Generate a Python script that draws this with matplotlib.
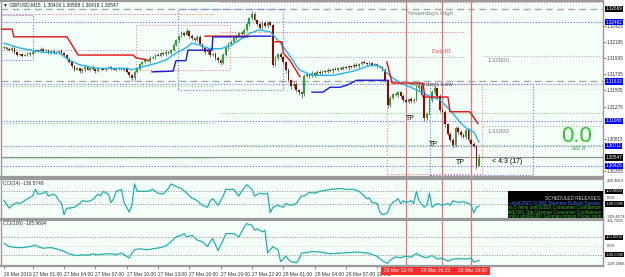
import numpy as np
import matplotlib
matplotlib.use("Agg")
import matplotlib.pyplot as plt
from matplotlib.patches import Rectangle
import matplotlib.transforms as mtransforms

plt.rcParams['font.family'] = ['Liberation Sans', 'DejaVu Sans']

# ---------------- data ----------------
first_open = 1.3211
close = [
    1.3212, 1.3210, 1.3208, 1.3211, 1.3205, 1.3201, 1.3202, 1.3200, 1.3201, 1.3204,
    1.3202, 1.3205, 1.3208, 1.3207, 1.3210, 1.3207, 1.3208, 1.3205, 1.3207, 1.3204,
    1.3205, 1.3207, 1.3204, 1.3201, 1.3195, 1.3191, 1.3185, 1.3180, 1.3182, 1.3178,
    1.3181, 1.3184, 1.3180, 1.3182, 1.3181, 1.3178, 1.3182, 1.3181, 1.3180, 1.3182,
    1.3184, 1.3181, 1.3180, 1.3182, 1.3181, 1.3180, 1.3181, 1.3177, 1.3172, 1.3168,
    1.3177, 1.3181, 1.3188, 1.3191, 1.3194, 1.3192, 1.3197, 1.3198, 1.3201, 1.3200,
    1.3204, 1.3202, 1.3205, 1.3204, 1.3208, 1.3215, 1.3222, 1.3228, 1.3232, 1.3230,
    1.3235, 1.3228, 1.3225, 1.3222, 1.3227, 1.3217, 1.3211, 1.3205, 1.3208, 1.3201,
    1.3202, 1.3197, 1.3194, 1.3190, 1.3201, 1.3211, 1.3217, 1.3220, 1.3225, 1.3228,
    1.3232, 1.3231, 1.3237, 1.3245, 1.3254, 1.3260, 1.3251, 1.3245, 1.3240, 1.3247,
    1.3242, 1.3248, 1.3244, 1.3187, 1.3197, 1.3202, 1.3198, 1.3191, 1.3180, 1.3165,
    1.3157, 1.3160, 1.3151, 1.3148, 1.3145, 1.3171, 1.3174, 1.3171, 1.3175, 1.3172,
    1.3177, 1.3175, 1.3178, 1.3177, 1.3180, 1.3178, 1.3181, 1.3180, 1.3182, 1.3181,
    1.3184, 1.3182, 1.3185, 1.3184, 1.3187, 1.3185, 1.3188, 1.3191, 1.3190, 1.3188,
    1.3190, 1.3187, 1.3188, 1.3185, 1.3184, 1.3180, 1.3165, 1.3130, 1.3140, 1.3145,
    1.3144, 1.3148, 1.3142, 1.3137, 1.3134, 1.3138, 1.3135, 1.3137, 1.3154, 1.3157,
    1.3144, 1.3111, 1.3117, 1.3137, 1.3148, 1.3154, 1.3142, 1.3122, 1.3120, 1.3102,
    1.3088, 1.3080, 1.3072, 1.3097, 1.3091, 1.3087, 1.3084, 1.3094, 1.3080, 1.3074,
    1.3071, 1.30419, 1.30547,
]
# wick lengths in pips
upper_wick = [
    2, 1, 2, 3, 1, 2, 1, 2, 1, 2,  1, 2, 2, 1, 3, 1, 2, 1, 1, 2,
    2, 1, 2, 1, 2, 3, 1, 2, 2, 1,  2, 1, 2, 1, 3, 1, 2, 1, 2, 1,
    2, 1, 2, 1, 2, 1, 2, 3, 1, 2,  3, 2, 1, 2, 3, 1, 2, 2, 1, 3,
    2, 1, 3, 2, 1, 3, 2, 2, 3, 2,  4, 2, 3, 1, 2, 2, 1, 2, 3, 2,
    2, 3, 2, 2, 3, 4, 2, 3, 2, 3,  2, 3, 2, 3, 2, 4, 3, 2, 3, 2,
    3, 2, 2, 2, 3, 2, 3, 2, 2, 3,  2, 3, 2, 2, 2, 3, 2, 2, 3, 2,
    2, 3, 1, 2, 2, 1, 2, 3, 1, 2,  2, 1, 2, 1, 2, 2, 1, 2, 3, 1,
    2, 1, 2, 2, 1, 2, 3, 2, 4, 2,  3, 2, 2, 3, 2, 2, 3, 2, 4, 3,
    2, 3, 2, 4, 3, 4, 2, 3, 2, 3,  2, 3, 2, 3, 2, 3, 3, 2, 3, 2,
    3, 2, 5.1,
]
lower_wick = [
    2, 2, 1, 2, 3, 1, 2, 2, 1, 2,  2, 1, 1, 2, 1, 2, 1, 2, 2, 1,
    1, 2, 1, 2, 1, 2, 3, 2, 1, 2,  2, 3, 1, 2, 1, 2, 1, 2, 1, 2,
    1, 2, 1, 2, 2, 1, 2, 1, 3, 4,  2, 1, 2, 1, 2, 1, 2, 1, 2, 1,
    2, 1, 2, 1, 2, 1, 1, 2, 1, 2,  1, 2, 3, 2, 1, 3, 2, 3, 2, 3,
    2, 3, 4, 3, 2, 2, 3, 2, 1, 2,  1, 2, 1, 2, 2, 3, 2, 3, 2, 2,
    3, 2, 2, 3, 2, 3, 2, 3, 4, 3,  4, 3, 3, 4, 5, 2, 2, 3, 2, 2,
    1, 2, 2, 1, 2, 1, 2, 1, 2, 1,  2, 1, 2, 1, 2, 1, 2, 1, 2, 2,
    1, 2, 1, 2, 1, 2, 2, 4, 3, 2,  2, 3, 2, 3, 3, 2, 3, 2, 2, 3,
    3, 4, 3, 2, 3, 2, 3, 3, 2, 4,  3, 3, 4, 2, 3, 3, 2, 3, 3, 2,
    3, 3, 0,
]

# moving average (cyan)
ma_idx = [0, 6, 15, 21, 25, 29, 36, 41, 47, 49, 53, 59, 62, 66, 70, 72, 75, 79, 83, 87,
          90, 94, 98, 102, 106, 110, 113, 118, 126, 134, 139, 143, 145, 149, 152, 157,
          162, 167, 171, 175, 177, 180, 182]
ma_val = [1.3218, 1.3211, 1.3205, 1.3204, 1.3194, 1.3187, 1.3182, 1.3182, 1.3182, 1.3180,
          1.3184, 1.3190, 1.3194, 1.3204, 1.3212, 1.3218, 1.3215, 1.3210, 1.3210, 1.3215,
          1.3222, 1.3232, 1.3237, 1.3234, 1.3218, 1.3197, 1.3180, 1.3172, 1.3172, 1.3178,
          1.3185, 1.3187, 1.3181, 1.3168, 1.3161, 1.3153, 1.3144, 1.3137, 1.3122, 1.3104,
          1.3097, 1.3091, 1.3077]

# red trailing stop (NaN separates segments)
red_idx = [-1.2, 3.1, 3.8, 24.1, 26.1, 28.4, 49.4, 50.6, 54.8, np.nan,
           77, 93.5, np.nan,
           103.1, 106.5, 107, 109.6, 113.4, np.nan,
           146.7, 147.9, 148.7, 160.5, 161.3, 170.1, 170.9, 178.5, 181.6]
red_val = [1.3238, 1.3238, 1.3227, 1.3227, 1.3215, 1.3201, 1.3201, 1.3197, 1.3194, np.nan,
           1.3228, 1.3228, np.nan,
           1.3220, 1.3220, 1.3204, 1.3193, 1.3170, np.nan,
           1.3191, 1.3173, 1.3161, 1.3161, 1.3141, 1.3141, 1.3120, 1.3120, 1.3103]
# blue trailing stop
blue_idx = [56.7, 64.8, 65.9, 69.7, 70.5, 79.7, 80, 93.5, 94, 102.2, np.nan,
            118, 122.2, 124.9, 128.7, 131.4, 135.2, 146.7]
blue_val = [1.3177, 1.3178, 1.3193, 1.3193, 1.3208, 1.3208, 1.3227, 1.3227, 1.3228, 1.3228, np.nan,
            1.3148, 1.3148, 1.3155, 1.3155, 1.3158, 1.3165, 1.3165]

# CCI(14)
cci14_idx = [0, 2, 3, 5, 6, 8, 9, 11, 12, 13, 15, 16, 17, 19, 20, 21, 22, 23, 24, 25, 27, 29, 30,
             32, 34, 36, 37, 38, 40, 41, 42, 43, 45, 46, 48, 49, 50, 51, 53, 55, 57, 59, 61, 63,
             64, 66, 68, 70, 72, 74, 76, 78, 79, 80, 82, 84, 85, 88, 90, 91, 93, 95, 96, 98, 100,
             101, 102, 103, 105, 107, 108, 110, 112, 114, 115, 117, 119, 121, 125, 129, 131, 134,
             136, 138, 139, 140, 141, 143, 144, 145, 147, 148, 149, 151, 152, 153, 154, 156, 157,
             158, 159, 161, 162, 163, 164, 166, 168, 170, 171, 172, 174, 176, 178, 179, 180, 181, 182]
cci14 = [-45, -166, -122, -78, -92, -48, -18, 26, 130, 56, 70, 100, 26, 56, 26, -48, -78, -270, -166,
         -166, -152, -92, -48, -63, -33, 56, 26, 100, 56, -78, -18, 100, 130, -78, -226, -122, 218,
         100, 100, 100, 130, 70, 56, 144, 218, 174, 144, 70, -4, -48, -122, -152, -48, -18, -122,
         26, 130, 130, 26, 100, 204, 130, 26, 70, 56, 70, -240, -152, -122, -152, -92, -122, -92,
         26, 26, 85, 70, 100, 130, 144, 130, 130, 100, 26, -18, -4, -78, -92, -226, -270, -240,
         -122, -78, -18, -92, -48, -78, -48, -92, 100, -48, -152, -122, 70, -152, -92, -122, -92,
         -122, -48, -78, -63, -92, -122, -240, -152, -137]

# CCI(100)
cci100_idx = [0, 1, 2, 5, 7, 10, 12, 13, 15, 18, 20, 23, 25, 28, 30, 32, 34, 36, 38, 41, 43, 45,
              46, 48, 49, 50, 52, 55, 57, 60, 62, 64, 66, 68, 69, 70, 72, 74, 76, 78, 79, 80, 82,
              83, 84, 85, 88, 90, 91, 92, 93, 95, 96, 97, 99, 100, 101, 103, 105, 106, 108, 109,
              110, 112, 113, 114, 116, 118, 121, 125, 130, 135, 137, 140, 143, 145, 147, 148, 150,
              152, 154, 156, 158, 160, 162, 164, 166, 168, 170, 172, 174, 177, 179, 180, 182]
cci100 = [30, 11, -8, -19, -19, -8, 11, -8, -26, -19, -33, -63, -92, -111, -100, -107, -92, -100,
          -92, -89, -100, -81, -100, -137, -81, -44, -33, -44, -33, -19, 0, 48, 104, 122, 141, 104,
          122, 67, 48, -8, 48, 85, -55, 11, 67, 141, 141, 104, 159, 214, 255, 233, 178, 197, 160,
          180, -81, -8, -44, -181, -119, -155, -181, -192, -155, -81, -75, -63, -70, -90, -80, -70,
          -75, -85, -120, -170, -200, -160, -125, -135, -115, -130, -85, -120, -135, -110, -150,
          -140, -175, -150, -145, -150, -140, -185, -166]

# levels
yest_high, yest_low, bid = 1.32669, 1.31633, 1.30547
blue_levels = [1.32482, 1.31597, 1.31068, 1.30711, 1.30426]
blue_box_levels = [1.32482, 1.31633, 1.31068, 1.30711, 1.30426]
price_ticks = [1.32425, 1.32195, 1.31965, 1.31735, 1.31505, 1.31275, 1.30815, 1.30355]
round_levels = [1.32000, 1.31000]
# pivot segments (start idx, end idx, price, colour)
piv_x0 = [-1.2, -1.2, -1.2, -1.2, -1.2, 82.7, 82.7, 82.7, 82.7, 82.7, 82.7]
piv_x1 = [80.8, 80.8, 80.8, 80.8, 80.8, 229.5, 176.6, 176.6, 229.5, 229.5, 229.5]
piv_p = [1.3260, 1.3208, 1.3157, 1.3104, 1.3054, 1.3277, 1.3234, 1.3198, 1.3153, 1.3118, 1.3073]
piv_c = ['#ff7070', '#a8a8a8', '#7fd07f', '#7fd07f', '#7fd07f',
         '#ff7070', '#ff7070', '#a8a8a8', '#c8ecc8', '#7fd07f', '#7fd07f']
# rectangles (idx0, idx1, low, high, colour)
rect_x0 = [-1.15, 50.6, 66.7, 146.7, 163.2]
rect_x1 = [11.1, 86.6, 106.9, 183.1, 202.7]
rect_lo = [1.3194, 1.3180, 1.3151, 1.3031, 1.3030]
rect_hi = [1.3258, 1.3244, 1.3267, 1.3160, 1.3160]
rect_c = ['#7070ff', '#ff8080', '#7070ff', '#ff8080', '#7070ff']
event_idx = [154, 168, 179]
event_lbl = ['28 Mar 12:45', '28 Mar 16:15', '28 Mar 19:00']
time_idx = [0, 11, 23, 35, 47, 59, 71, 83, 95, 107, 119, 131, 143]
time_lbl = ['26 Mar 2019', '27 Mar 01:00', '27 Mar 04:00', '27 Mar 07:00', '27 Mar 10:00',
            '27 Mar 13:00', '27 Mar 16:00', '27 Mar 19:00', '27 Mar 22:00', '28 Mar 01:00',
            '28 Mar 04:00', '28 Mar 07:00', '28 Ma']

# ---------------- figure ----------------
W, H = 625, 277
fig = plt.figure(figsize=(W / 100, H / 100), dpi=100, facecolor='white')
FS = 3.5      # axis label size
FSR = 3.3     # right-hand price labels
FSC = 3.0     # right-hand CCI labels


def fbox(x0, y0, x1, y1):
    return [x0 / W, 1 - y1 / H, (x1 - x0) / W, (y1 - y0) / H]


def ptext(x, y, s, **kw):
    kw.setdefault('va', 'center')
    fig.text(x / W, 1 - y / H, s, **kw)


BG = '#f4fff9'
ax = fig.add_axes(fbox(1, 1, 603, 177), facecolor=BG)
ax1 = fig.add_axes(fbox(1, 179, 603, 218.5), facecolor=BG, sharex=ax)
ax2 = fig.add_axes(fbox(1, 219.5, 603, 266), facecolor=BG, sharex=ax)
for a in (ax, ax1, ax2):
    for s in a.spines.values():
        s.set_color('#9a9a9a')
        s.set_linewidth(1.0)
    a.spines['top'].set_linewidth(1.6)
    a.spines['bottom'].set_linewidth(1.6)

n = len(close)
idx = np.arange(n)
c = np.array(close)
o = np.array([first_open] + close[:-1])
hi = np.maximum(o, c) + np.array(upper_wick[:n]) * 1e-4
lo = np.minimum(o, c) - np.array(lower_wick[:n]) * 1e-4

ax.set_xlim(-1.15, 229.5)
ax.set_ylim(1.30268, 1.32782)

DOT = (0, (1, 1.6))
# full-width levels
ax.axhline(yest_high, color='#a8a8a8', lw=1.0, ls=(0, (5, 3)), zorder=1)
ax.axhline(yest_low, color='#a8a8a8', lw=1.0, ls=(0, (5, 3)), zorder=1)
for lv in blue_levels:
    ax.axhline(lv, color='#6a6aff', lw=0.8, ls=DOT, zorder=1)
ax.axhline(bid, color='#909090', lw=0.9, zorder=1)
for x0, x1, p, col in zip(piv_x0, piv_x1, piv_p, piv_c):
    ax.plot([x0, x1], [p, p], color=col, lw=0.8, ls=DOT, zorder=1)
for lv in round_levels:
    ax.plot([183.5, 229.5], [lv, lv], color='#b0b0b0', lw=0.8, ls=DOT, zorder=1)
for x0, x1, l, h_, col in zip(rect_x0, rect_x1, rect_lo, rect_hi, rect_c):
    ax.add_patch(Rectangle((x0, l), x1 - x0, h_ - l, fill=False, ec=col, lw=0.8,
                           ls=DOT, zorder=1))
for a in (ax, ax1, ax2):
    for e in event_idx:
        a.axvline(e, color='#f07070', lw=0.9, zorder=1.5)

# candles
ax.vlines(idx, lo, hi, color='#6a6a6a', lw=0.6, zorder=2)
bull = c >= o
body_lo = np.minimum(o, c)
body_h = np.maximum(np.abs(c - o), 0.00004)
ax.bar(idx, body_h, bottom=body_lo, width=0.66,
       color=np.where(bull, '#22aa22', '#a00000'), lw=0, zorder=3)

# indicator lines
ax.plot(ma_idx, ma_val, color='#22b4ee', lw=1.0, zorder=4)
ax.plot(red_idx, red_val, color='#e01010', lw=1.0, zorder=4)
ax.plot(blue_idx, blue_val, color='#1a1ae0', lw=1.0, zorder=4)

# price axis
ax.yaxis.tick_right()
ax.set_yticks(price_ticks)
ax.set_yticklabels([f'{v:.5f}' for v in price_ticks])
ax.tick_params(axis='y', labelsize=FSR, pad=1.0, length=1.8, color='#909090',
               labelcolor='#303030')
ax.tick_params(axis='x', bottom=False, labelbottom=False)
trans = mtransforms.blended_transform_factory(ax.transAxes, ax.transData)
for lv in blue_box_levels:
    ax.text(1.004, lv, f'{lv:.5f}', transform=trans, fontsize=FSR, color='white',
            va='center', ha='left', zorder=10,
            bbox=dict(boxstyle='square,pad=0.15', fc='#0000ff', ec='none'))
for lv in (yest_high, bid):
    ax.text(1.004, lv, f'{lv:.5f}', transform=trans, fontsize=FSR, color='white',
            va='center', ha='left', zorder=10,
            bbox=dict(boxstyle='square,pad=0.15', fc='#000000', ec='none'))

# CCI panels
def cci_panel(a, xs, ys, lo_, hi_, lbl_lo, lbl_hi, title):
    a.plot(xs, ys, color='#20b2aa', lw=0.9, zorder=3)
    a.set_ylim(lo_, hi_)
    a.axhline(100, color='#8a8a8a', lw=0.7, ls=DOT)
    a.axhline(-100, color='#8a8a8a', lw=0.7, ls=DOT)
    a.axhline(0, color='#cfcfcf', lw=0.7, ls=DOT)
    a.set_yticks([])
    a.tick_params(axis='x', bottom=False, labelbottom=False)
    tr = mtransforms.blended_transform_factory(a.transAxes, a.transData)
    a.text(1.006, hi_, lbl_hi, transform=tr, fontsize=FSC, va='top', ha='left', color='#303030')
    a.text(1.006, lo_, lbl_lo, transform=tr, fontsize=FSC, va='bottom', ha='left', color='#303030')
    a.text(1.006, 0, '0.00', transform=tr, fontsize=FSC, va='center', ha='left', color='#303030')
    for v, s in ((100, '100.0000'), (-100, '-100.0000')):
        a.text(1.004, v, s, transform=tr, fontsize=FSC, va='center', ha='left', color='white',
               zorder=10, bbox=dict(boxstyle='square,pad=0.15', fc='black', ec='none'))
    a.text(0.004, 0.96, title, transform=a.transAxes, fontsize=FS, va='top', ha='left',
           color='#303030')


cci_panel(ax1, cci14_idx, cci14, -329.4173, 294.3813, '-329.4173', '294.3813',
          'CCI(14) -136.5748')
cci_panel(ax2, cci100_idx, cci100, -229.1866, 301.7555, '-229.1866', '301.7555',
          'CCI(100) -165.9694')

# time axis
ax2.tick_params(axis='x', bottom=True, labelbottom=True, labelsize=FS, pad=1.5,
                length=2.5, color='#909090', labelcolor='#303030')
ax2.set_xticks(time_idx)
ax2.set_xticklabels(time_lbl, ha='left')
# red band behind the event time labels
fig.patches.append(Rectangle((381 / W, 1 - 275 / H), 109 / W, 8.5 / H, transform=fig.transFigure,
                             fc='#ff2a2a', ec='none', zorder=5))
for xc, s in zip((399, 435.5, 472), event_lbl):
    fig.text(xc / W, 1 - 270.5 / H, s, fontsize=FS, color='white', ha='center',
             va='center', zorder=6)

# annotations
ax.text(0.004, 0.992, '\u25bc GBPUSD,M15  1.30419 1.30598 1.30419 1.30547', transform=ax.transAxes,
        fontsize=FS, va='top', ha='left', color='#202020',
        family=['Liberation Sans', 'DejaVu Sans'])
ptext(407, 13, 'Yesterdays High', fontsize=4.6, color='#808080')
ptext(408, 84.5, 'Yesterdays Low', fontsize=4.6, color='#505050')
ptext(432, 51, 'Daily R1', fontsize=3.6, color='#ff4040')
ptext(488, 60, '1.32000', fontsize=4.3, color='#808080')
ptext(488, 131, '1.31000', fontsize=4.3, color='#808080')
ptext(577, 136, '0.0', fontsize=16, color='#22cc22', ha='center')
ptext(578, 148.5, '+92.4', fontsize=4.3, color='#22aa22', ha='center')
ptext(492, 161.5, '< 4:3 (17)', fontsize=5.0, color='black')
for x_, y_ in ((406, 119), (429, 144), (456, 162)):
    ptext(x_, y_, 'TP', fontsize=5.0, color='black')

# scheduled releases box
box = Rectangle((508 / W, 1 - 218 / H), 95 / W, 27 / H, transform=fig.transFigure,
                fc='black', ec='none', zorder=5)
fig.patches.append(box)
sched = [('SCHEDULED RELEASES:', '#d8d8d8'),
         ('hrs 29 mins until(USD) FOMC Member Bullard Speaks', '#3a7bff'),
         ('2 hrs 5 mins until(USD) Consumer Confidence', '#2ecc2e'),
         ('7 hrs 55 mins until(EUR) Gfk German Consumer Confidence', '#2ecc2e'),
         ('24 hrs 5 mins until(EUR) German Import Prices m/m', '#2ecc2e')]
for k, (s, col) in enumerate(sched):
    t = fig.text(601 / W, 1 - (198.5 + k * 4.6) / H, s, fontsize=3.4, color=col, ha='right',
                 va='center', zorder=6)
    t.set_clip_path(box)

fig.savefig('out.png', dpi=100, facecolor='white')
